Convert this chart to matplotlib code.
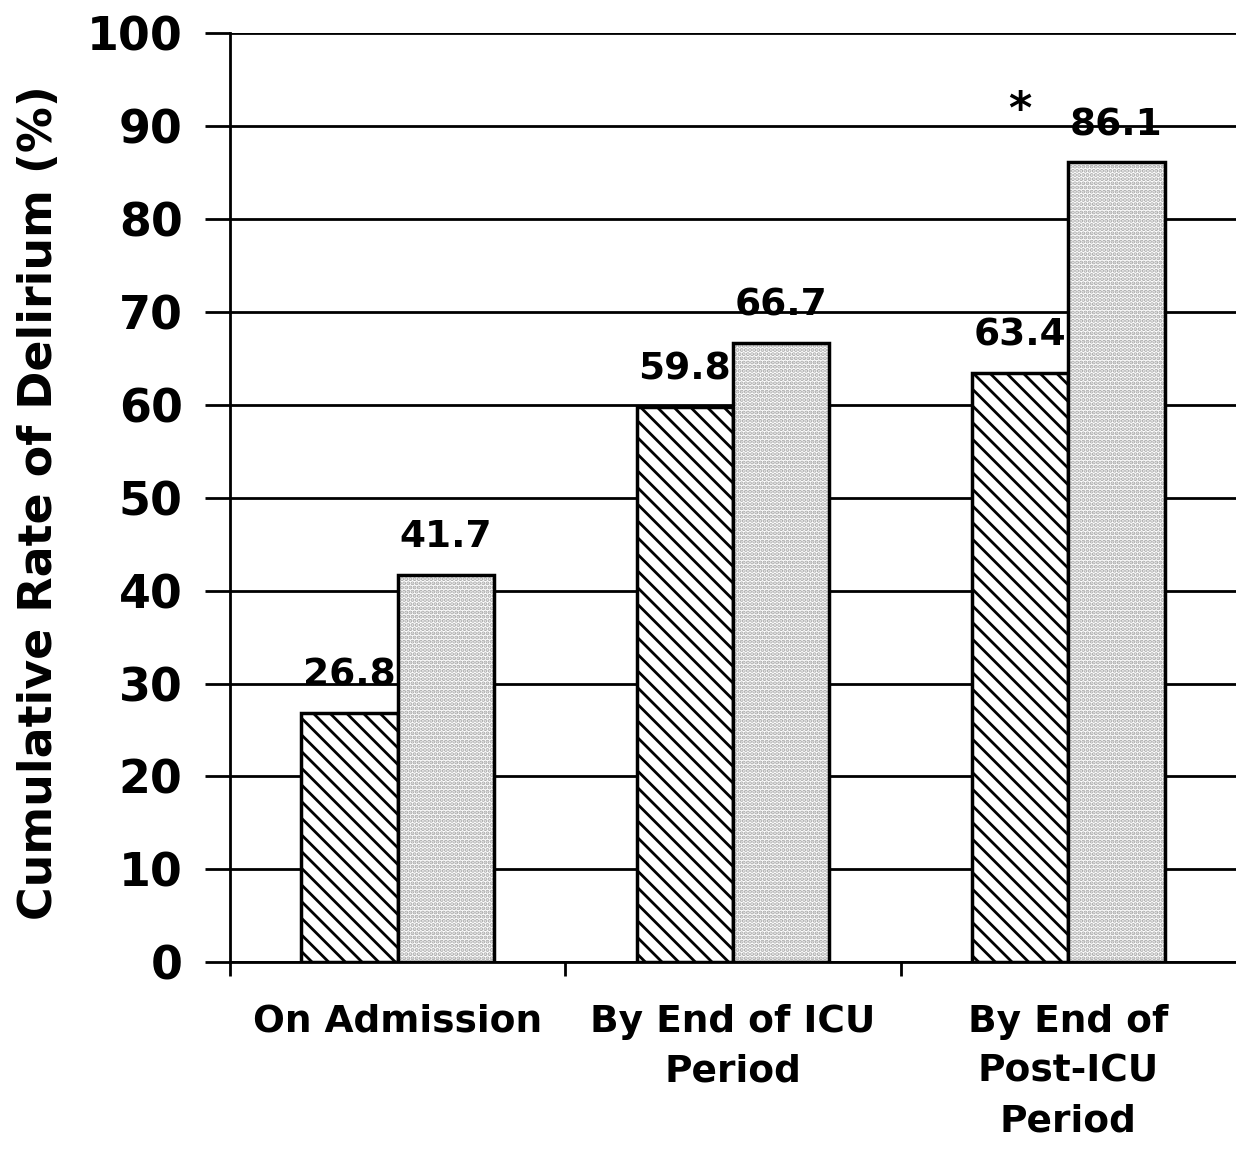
import numpy as np
import matplotlib
matplotlib.use('Agg')
import matplotlib.pyplot as plt

# data
categories = ['On Admission', 'By End of ICU\nPeriod', 'By End of\nPost-ICU\nPeriod']
group_a = [26.8, 59.8, 63.4]   # hatched bars
group_b = [41.7, 66.7, 86.1]   # dotted bars
star_cat = 2

plt.rcParams['font.family'] = 'DejaVu Sans'
plt.rcParams['font.weight'] = 'bold'
plt.rcParams['hatch.linewidth'] = 2.0

fig = plt.figure(figsize=(12.36, 11.51), dpi=100)
ax = fig.add_axes([0.186, 0.164, 0.814, 0.807])

x = np.arange(len(categories))
w = 0.287

# hatched bars
ax.bar(x - w/2, group_a, w, facecolor='white', edgecolor='black', hatch='\\\\',
       linewidth=2.5, zorder=3)
# dotted bars: grey stipple first, then black outline on top
ax.bar(x + w/2, group_b, w, facecolor='white', edgecolor='#a8a8a8', hatch='....',
       linewidth=0, zorder=3)
ax.bar(x + w/2, group_b, w, facecolor='none', edgecolor='black',
       linewidth=2.5, zorder=4)

# value labels
for i in range(len(categories)):
    ax.annotate(f'{group_a[i]:.1f}', (x[i] - w/2, group_a[i]), xytext=(0, 14),
                textcoords='offset points', ha='center', va='bottom',
                fontsize=27, fontweight='bold', zorder=5)
    ax.annotate(f'{group_b[i]:.1f}', (x[i] + w/2, group_b[i]), xytext=(0, 14),
                textcoords='offset points', ha='center', va='bottom',
                fontsize=27, fontweight='bold', zorder=5)
ax.annotate('*', (x[star_cat] - w/2, group_b[star_cat]), xytext=(0, 22),
            textcoords='offset points', ha='center', va='bottom',
            fontsize=32, fontweight='bold')

ax.set_xlim(-0.5, 2.5)
ax.set_ylim(0, 100)
ax.set_yticks(np.arange(0, 101, 10))
ax.yaxis.grid(True, color='black', linewidth=2)
ax.set_axisbelow(True)

ax.set_xticks(x)
ax.set_xticklabels(categories, fontsize=27, fontweight='bold', linespacing=1.5)
ax.set_xticks([-0.5, 0.5, 1.5], minor=True)
ax.tick_params(axis='x', which='major', length=0, pad=30)
ax.tick_params(axis='x', which='minor', length=10, width=2, direction='out')
ax.tick_params(axis='y', length=18, width=2, pad=16, labelsize=33)
for lab in ax.get_yticklabels():
    lab.set_fontweight('bold')

ax.spines['top'].set_visible(False)
ax.spines['right'].set_visible(False)
ax.spines['left'].set_linewidth(2)
ax.spines['bottom'].set_linewidth(2)

ax.set_ylabel('Cumulative Rate of Delirium (%)', fontsize=33, fontweight='bold')
ax.yaxis.set_label_coords(-0.167, 0.495)

plt.savefig('out.png', dpi=100)
